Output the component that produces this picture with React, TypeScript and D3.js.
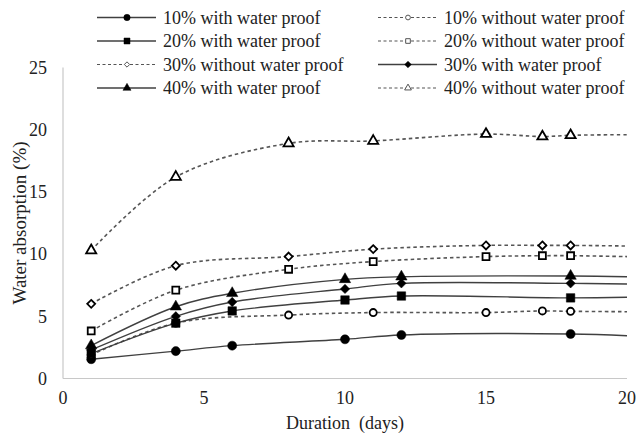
import React from 'react';
import * as d3 from 'd3';

const withDays = [1, 4, 6, 10, 12, 18];
const withoutDays = [1, 4, 8, 11, 15, 17, 18];
const endDay = 20;

const with10 = [1.55, 2.2, 2.64, 3.15, 3.5, 3.58];
const with20 = [2.0, 4.45, 5.43, 6.31, 6.63, 6.48];
const with30 = [2.3, 5.0, 6.15, 7.2, 7.65, 7.65];
const with40 = [2.65, 5.77, 6.85, 7.97, 8.18, 8.24];
const without10 = [1.9, 4.46, 5.1, 5.3, 5.3, 5.43, 5.4];
const without20 = [3.82, 7.1, 8.78, 9.4, 9.8, 9.87, 9.87];
const without30 = [6.0, 9.07, 9.8, 10.4, 10.7, 10.7, 10.7];
const without40 = [10.3, 16.2, 18.9, 19.1, 19.65, 19.45, 19.55];

// value at day 20 where the smoothed lines stop
const endValues = {
  with10: 3.44, with20: 6.53, with30: 7.6, with40: 8.18,
  without10: 5.37, without20: 9.8, without30: 10.65, without40: 19.6,
};

const xTicks = [0, 5, 10, 15, 20];
const yTicks = [0, 5, 10, 15, 20, 25];

type Series = {
  key: string;
  label: string;
  days: number[];
  values: number[];
  dashed: boolean;
  symbol: d3.SymbolType;
  filled: boolean;
  size: number;
};

const series: Series[] = [
  { key: 'with10', label: '10% with water proof', days: withDays, values: with10, dashed: false, symbol: d3.symbolCircle, filled: true, size: 64 },
  { key: 'without10', label: '10% without water proof', days: withoutDays, values: without10, dashed: true, symbol: d3.symbolCircle, filled: false, size: 40 },
  { key: 'with20', label: '20% with water proof', days: withDays, values: with20, dashed: false, symbol: d3.symbolSquare, filled: true, size: 72 },
  { key: 'without20', label: '20% without water proof', days: withoutDays, values: without20, dashed: true, symbol: d3.symbolSquare, filled: false, size: 48 },
  { key: 'without30', label: '30% without water proof', days: withoutDays, values: without30, dashed: true, symbol: d3.symbolDiamond2, filled: false, size: 40 },
  { key: 'with30', label: '30% with water proof', days: withDays, values: with30, dashed: false, symbol: d3.symbolDiamond2, filled: true, size: 56 },
  { key: 'with40', label: '40% with water proof', days: withDays, values: with40, dashed: false, symbol: d3.symbolTriangle, filled: true, size: 56 },
  { key: 'without40', label: '40% without water proof', days: withoutDays, values: without40, dashed: true, symbol: d3.symbolTriangle, filled: false, size: 44 },
];

const W = 638;
const H = 437;
const left = 63;
const right = 627;
const top = 67.5;
const bottom = 378.5;
const font = '"Liberation Serif", "Times New Roman", serif';

export default function App() {
  const x = d3.scaleLinear().domain([0, 20]).range([left, right]);
  const y = d3.scaleLinear().domain([0, 25]).range([bottom, top]);

  const lineGen = d3
    .line<[number, number]>()
    .x(d => x(d[0]))
    .y(d => y(d[1]))
    .curve(d3.curveCatmullRom.alpha(0.5));

  // legend layout
  const legendCols = [97, 378];
  const legendRows = [17.5, 41, 64.5, 88];

  return (
    <svg width={W} height={H} style={{ position: 'absolute', left: 0, top: 0, background: '#fff' }} fontFamily={font}>
      <rect width={W} height={H} fill="#fff" />
      {/* axes */}
      <line x1={left} x2={left} y1={top} y2={bottom} stroke="#c8c8c8" strokeWidth={1.2} />
      <line x1={left} x2={right} y1={bottom} y2={bottom} stroke="#c8c8c8" strokeWidth={1.2} />
      {yTicks.map(t => (
        <text key={'y' + t} x={47} y={y(t)} dy="0.35em" textAnchor="end" fontSize={18} fill="#222">
          {t}
        </text>
      ))}
      {xTicks.map(t => (
        <text key={'x' + t} x={x(t)} y={398} dy="0.35em" textAnchor="middle" fontSize={18} fill="#222">
          {t}
        </text>
      ))}
      <text x={(left + right) / 2} y={423} dy="0.35em" textAnchor="middle" fontSize={18} fill="#222" style={{ whiteSpace: 'pre' }}>
        {'Duration  (days)'}
      </text>
      <text
        transform={`translate(19,${(top + bottom) / 2}) rotate(-90)`}
        dy="0.35em"
        textAnchor="middle"
        fontSize={19}
        fill="#222"
      >
        Water absorption (%)
      </text>

      {/* lines */}
      {series.map(s => {
        const pts: [number, number][] = s.days.map((d, i) => [d, s.values[i]] as [number, number]);
        pts.push([endDay, endValues[s.key as keyof typeof endValues]]);
        return (
          <path
            key={'l' + s.key}
            d={lineGen(pts) || ''}
            fill="none"
            stroke={s.dashed ? '#555' : '#404040'}
            strokeWidth={s.dashed ? 1.6 : 1.4}
            strokeDasharray={s.dashed ? '3.5,3' : undefined}
          />
        );
      })}

      {/* markers */}
      {series.map(s =>
        s.days.map((d, i) => (
          <path
            key={'m' + s.key + i}
            d={d3.symbol().type(s.symbol).size(s.size)() || ''}
            transform={`translate(${x(d)},${y(s.values[i])})`}
            fill={s.filled ? '#000' : '#fff'}
            stroke="#000"
            strokeWidth={s.filled ? 0.5 : 1.8}
          />
        ))
      )}

      {/* legend */}
      {series.map((s, i) => {
        const cx = legendCols[i % 2];
        const cy = legendRows[Math.floor(i / 2)];
        return (
          <g key={'g' + s.key} transform={`translate(${cx},${cy})`}>
            <line
              x1={0}
              x2={59}
              y1={0}
              y2={0}
              stroke={s.dashed ? '#555' : '#404040'}
              strokeWidth={s.dashed ? 1.2 : 1.4}
              strokeDasharray={s.dashed ? '3,2.5' : undefined}
            />
            <path
              d={d3.symbol().type(s.symbol).size(s.filled ? s.size * 0.5 : s.size * 0.45)() || ''}
              transform="translate(30,0)"
              fill={s.filled ? '#000' : '#fff'}
              stroke={s.filled ? '#000' : '#555'}
              strokeWidth={s.filled ? 0.5 : 1}
            />
            <text x={66} y={0} dy="0.35em" fontSize={18} fill="#222">
              {s.label}
            </text>
          </g>
        );
      })}
    </svg>
  );
}
